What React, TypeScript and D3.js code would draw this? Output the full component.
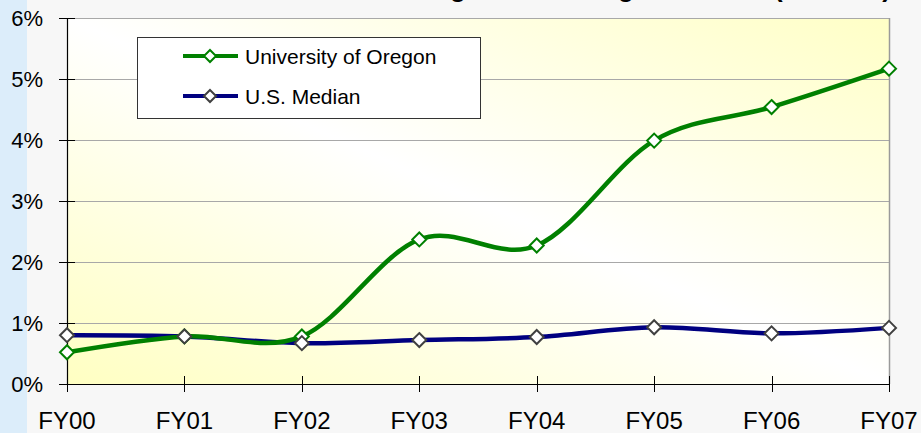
import React from 'react';
import * as d3 from 'd3';

// values (percent)
const years = ['FY00', 'FY01', 'FY02', 'FY03', 'FY04', 'FY05', 'FY06', 'FY07'];
const oregon = [0.52, 0.78, 0.78, 2.37, 2.27, 3.99, 4.54, 5.17];
const usMedian = [0.8, 0.78, 0.67, 0.72, 0.77, 0.93, 0.83, 0.92];
const yTicks = [0, 1, 2, 3, 4, 5, 6];
const seriesNames = ['University of Oregon', 'U.S. Median'];
const lineColors = ['#008000', '#000080'];
const markerColors = ['#008000', '#404040'];
// title is cut off by the top edge in the reference; split into chunks
const titleParts = ['Growth in Annual Giving', 'vs. Funding', 'Increase (FY00-07)'];
const titleEnds = [466, 634, 891];

const W = 921;
const H = 433;
const FONT = '"Liberation Sans", Arial, sans-serif';

function Diamond({ x, y, r, stroke }: { x: number; y: number; r: number; stroke: string }) {
  return (
    <path
      d={`M${x},${y - r}L${x + r},${y}L${x},${y + r}L${x - r},${y}Z`}
      fill="#fff"
      stroke={stroke}
      strokeWidth={2}
    />
  );
}

export default function App() {
  const margin = { top: 18, right: 32, bottom: 49, left: 67 };
  const x = d3
    .scalePoint<string>()
    .domain(years)
    .range([margin.left, W - margin.right]);
  const y = d3
    .scaleLinear()
    .domain([0, 6])
    .range([H - margin.bottom, margin.top]);

  const x0 = margin.left;
  const x1 = W - margin.right;
  const y0 = H - margin.bottom;
  const yTop = margin.top;

  const line = d3
    .line<number>()
    .x((_, i) => x(years[i]) as number)
    .y((d) => y(d))
    .curve(d3.curveCardinal.tension(0));

  const series = [oregon, usMedian];

  return (
    <svg
      width={W}
      height={H}
      style={{ position: 'fixed', left: 0, top: 0, fontFamily: FONT }}
    >
      <defs>
        <linearGradient id="plotBg" x1="0" y1="1" x2="1" y2="0">
          <stop offset="0" stopColor="#ffffc2" />
          <stop offset="0.5" stopColor="#ffffff" />
          <stop offset="1" stopColor="#ffffc6" />
        </linearGradient>
      </defs>

      {/* page background and left strip */}
      <rect x={0} y={0} width={W} height={H} fill="#f7f7f7" />
      <rect x={0} y={0} width={27} height={H} fill="#dcedfa" />

      {/* clipped title, only descenders show */}
      {titleParts.map((t, i) => (
        <text
          key={t}
          x={titleEnds[i]}
          y={-3.5}
          textAnchor="end"
          fontSize={26}
          fontWeight="bold"
          fill="#000"
        >
          {t}
        </text>
      ))}

      {/* plot area */}
      <rect x={x0} y={yTop} width={x1 - x0} height={y0 - yTop} fill="url(#plotBg)" />

      {/* grid lines */}
      {yTicks
        .filter((t) => t > 0)
        .map((t) => (
          <line
            key={t}
            x1={x0}
            x2={x1}
            y1={Math.round(y(t)) + 0.5}
            y2={Math.round(y(t)) + 0.5}
            stroke="#a8a8a8"
            strokeWidth={1}
          />
        ))}
      <line x1={x1 + 0.5} x2={x1 + 0.5} y1={yTop} y2={y0} stroke="#9a9a9a" strokeWidth={1.5} />

      {/* axes */}
      <line x1={x0 + 0.5} x2={x0 + 0.5} y1={yTop} y2={y0} stroke="#000" strokeWidth={1.2} />
      <line x1={x0 - 8} x2={x1} y1={y0 + 0.5} y2={y0 + 0.5} stroke="#000" strokeWidth={1.2} />
      {yTicks.map((t) => (
        <g key={t}>
          <line
            x1={x0 - 8}
            x2={x0 + 8}
            y1={Math.round(y(t)) + 0.5}
            y2={Math.round(y(t)) + 0.5}
            stroke="#000"
            strokeWidth={1}
          />
          <text
            x={43}
            y={y(t)}
            textAnchor="end"
            dominantBaseline="central"
            fontSize={22}
            fill="#000"
          >
            {t}%
          </text>
        </g>
      ))}
      {years.map((yr) => (
        <g key={yr}>
          <line
            x1={Math.round(x(yr) as number) + 0.5}
            x2={Math.round(x(yr) as number) + 0.5}
            y1={y0 - 8}
            y2={y0 + 8}
            stroke="#000"
            strokeWidth={1}
          />
          <text
            x={x(yr) as number}
            y={429}
            textAnchor="middle"
            fontSize={24}
            fill="#000"
          >
            {yr}
          </text>
        </g>
      ))}

      {/* series lines (US median drawn first, Oregon over it) */}
      {[1, 0].map((s) => (
        <path
          key={`l${s}`}
          d={line(series[s]) || ''}
          fill="none"
          stroke={lineColors[s]}
          strokeWidth={4.5}
          strokeLinejoin="round"
        />
      ))}
      {[0, 1].map((s) =>
        series[s].map((v, i) => (
          <Diamond
            key={`m${s}-${i}`}
            x={x(years[i]) as number}
            y={y(v)}
            r={7}
            stroke={markerColors[s]}
          />
        ))
      )}

      {/* legend */}
      <rect x={137.5} y={37.5} width={343} height={81} fill="#fff" stroke="#333" strokeWidth={1} />
      {seriesNames.map((name, i) => {
        const ly = 56 + i * 40;
        return (
          <g key={name}>
            <line x1={183} x2={238} y1={ly} y2={ly} stroke={lineColors[i]} strokeWidth={4} />
            <Diamond x={210} y={ly} r={6} stroke={markerColors[i]} />
            <text x={245} y={ly} dominantBaseline="central" fontSize={21} fill="#000">
              {name}
            </text>
          </g>
        );
      })}
    </svg>
  );
}
